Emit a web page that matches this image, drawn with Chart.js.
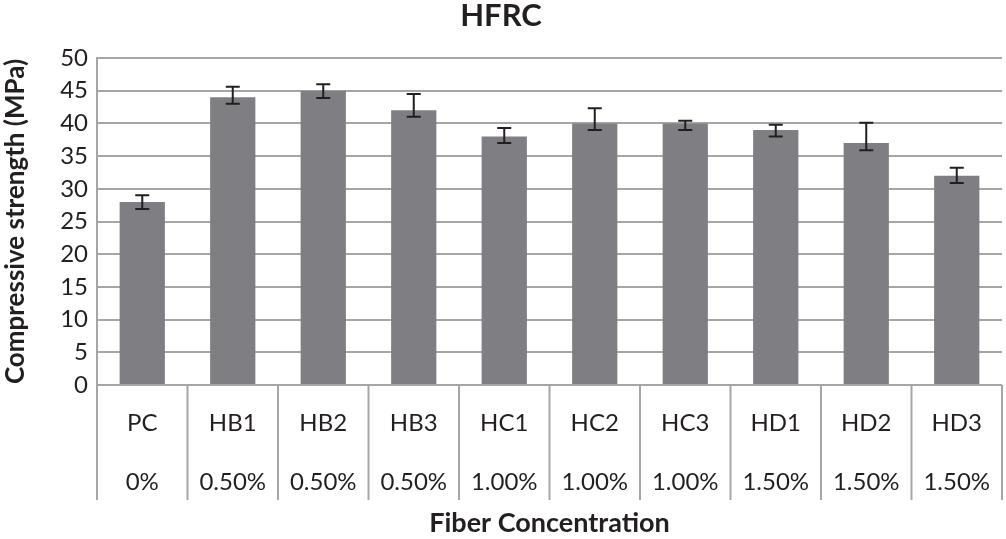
<!DOCTYPE html>
<html>
<head>
<meta charset="utf-8">
<script src="https://cdn.jsdelivr.net/npm/chart.js@4/dist/chart.umd.min.js"></script>
<style>
  body { margin: 0; background: #fff; }
  #wrap { width: 1006px; height: 539px; }
</style>
</head>
<body>
<div id="wrap"><canvas id="hfrcChart" width="1006" height="539"></canvas></div>
<script>
// data
const samples = ['PC', 'HB1', 'HB2', 'HB3', 'HC1', 'HC2', 'HC3', 'HD1', 'HD2', 'HD3'];
const fiberConc = ['0%', '0.50%', '0.50%', '0.50%', '1.00%', '1.00%', '1.00%', '1.50%', '1.50%', '1.50%'];
const strength = [28, 44, 45, 42, 38, 40, 40, 39, 37, 32];
const errPlus = [1.0, 1.6, 1.0, 2.5, 1.3, 2.3, 0.4, 0.8, 3.1, 1.2];
const errMinus = [1.1, 1.0, 1.1, 1.0, 1.0, 1.0, 1.0, 1.0, 1.1, 1.1];
const yTicks = [0, 5, 10, 15, 20, 25, 30, 35, 40, 45, 50];

const labels = samples.map((s, i) => [s, fiberConc[i]]);

// error bars on top of the columns
const errorBars = {
    id: 'errorBars',
    afterDatasetsDraw(chart) {
        const ctx = chart.ctx;
        const yScale = chart.scales.y;
        const meta = chart.getDatasetMeta(0);
        ctx.save();
        ctx.strokeStyle = '#231f20';
        ctx.lineWidth = 2;
        meta.data.forEach((bar, i) => {
            const x = bar.x;
            const top = yScale.getPixelForValue(strength[i] + errPlus[i]);
            const bot = yScale.getPixelForValue(strength[i] - errMinus[i]);
            ctx.beginPath();
            ctx.moveTo(x, top);
            ctx.lineTo(x, bot);
            ctx.moveTo(x - 7, top);
            ctx.lineTo(x + 7, top);
            ctx.moveTo(x - 7, bot);
            ctx.lineTo(x + 7, bot);
            ctx.stroke();
        });
        ctx.restore();
    }
};

// the boxes round the two label rows under the axis
const categoryBoxes = {
    id: 'categoryBoxes',
    afterDraw(chart) {
        const ctx = chart.ctx;
        const xScale = chart.scales.x;
        const area = chart.chartArea;
        const step = xScale.getPixelForValue(1) - xScale.getPixelForValue(0);
        ctx.save();
        ctx.strokeStyle = '#a6a6a6';
        ctx.lineWidth = 2;
        for (let i = 0; i <= samples.length; i++) {
            const x = xScale.getPixelForValue(i) - step / 2;
            ctx.beginPath();
            ctx.moveTo(x, area.bottom);
            ctx.lineTo(x, area.bottom + 115);
            ctx.stroke();
        }
        ctx.restore();
    }
};

const ctx = document.getElementById('hfrcChart').getContext('2d');
const hfrcChart = new Chart(ctx, {
    type: 'bar',
    data: {
        labels: labels,
        datasets: [{
            label: 'Compressive strength',
            data: strength,
            backgroundColor: '#7f7f83',
            borderWidth: 0,
            barPercentage: 0.5,
            categoryPercentage: 1.0
        }]
    },
    options: {
        responsive: false,
        animation: false,
        layout: { padding: { left: 0, right: 4, top: 0, bottom: 0 } },
        plugins: {
            legend: { display: false },
            tooltip: { enabled: false },
            title: {
                display: true,
                text: 'HFRC',
                color: '#231f20',
                font: { family: 'Lato', size: 31, weight: 'bold', lineHeight: 1 },
                padding: { top: 0, bottom: 27 }
            }
        },
        scales: {
            x: {
                offset: true,
                afterFit(scale) { scale.height = 154; },
                grid: { display: false, drawTicks: false },
                border: { display: false },
                ticks: {
                    color: '#231f20',
                    padding: 9,
                    maxRotation: 0,
                    autoSkip: false,
                    font: { family: 'Lato', size: 24, lineHeight: 2.46 }
                },
                title: {
                    display: true,
                    text: 'Fiber Concentration',
                    color: '#231f20',
                    font: { family: 'Lato', size: 27, weight: 'bold', lineHeight: 1.2 },
                    padding: { top: 0, bottom: 0 }
                }
            },
            y: {
                min: 0,
                max: 50,
                afterFit(scale) { scale.width = 97; },
                afterBuildTicks(scale) {
                    scale.ticks = yTicks.map(v => ({ value: v }));
                },
                grid: {
                    color: '#a6a6a6',
                    lineWidth: 2,
                    drawTicks: false
                },
                border: { color: '#a6a6a6', width: 2 },
                ticks: {
                    color: '#231f20',
                    padding: 9,
                    font: { family: 'Lato', size: 24 }
                },
                title: {
                    display: true,
                    text: 'Compressive strength (MPa)',
                    color: '#231f20',
                    font: { family: 'Lato', size: 26, weight: 'bold', lineHeight: 1.2 },
                    padding: { top: 0, bottom: 0 }
                }
            }
        }
    },
    plugins: [errorBars, categoryBoxes]
});
</script>
</body>
</html>
